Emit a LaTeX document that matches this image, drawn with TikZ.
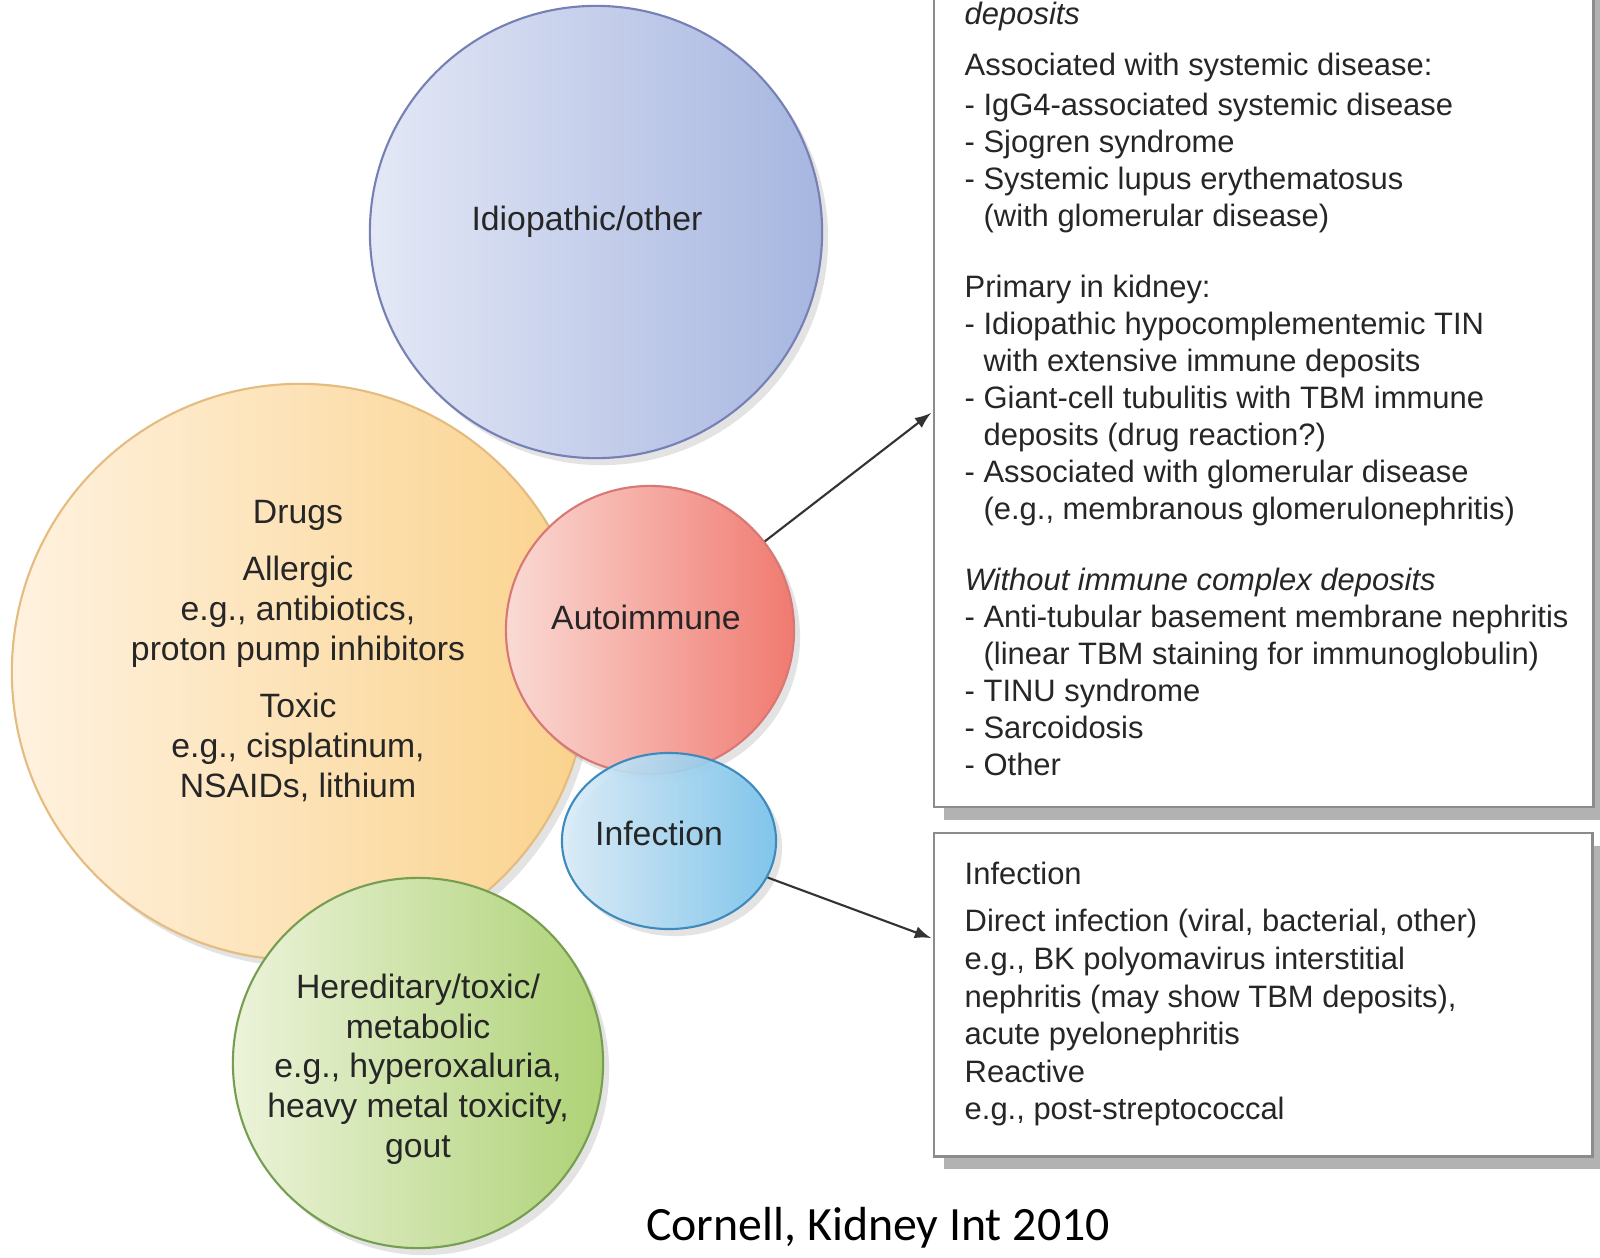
\documentclass[tikz,border=0pt]{standalone}
\usepackage{fontspec}
\setmainfont{Liberation Sans}
\newfontfamily\capfont{Carlito}
\usetikzlibrary{shapes.geometric,shadows}

\definecolor{idioL}{RGB}{228,232,246}
\definecolor{idioR}{RGB}{166,182,224}
\definecolor{idioD}{RGB}{118,128,180}
\definecolor{drugL}{RGB}{255,242,224}
\definecolor{drugR}{RGB}{250,210,140}
\definecolor{drugD}{RGB}{228,188,128}
\definecolor{autoL}{RGB}{250,218,212}
\definecolor{autoR}{RGB}{240,122,112}
\definecolor{autoD}{RGB}{216,120,118}
\definecolor{infL}{RGB}{218,236,248}
\definecolor{infR}{RGB}{118,194,236}
\definecolor{infD}{RGB}{62,138,188}
\definecolor{herL}{RGB}{236,243,218}
\definecolor{herR}{RGB}{174,210,118}
\definecolor{herD}{RGB}{118,158,80}

\tikzset{
  bubble/.style={circle, draw, inner sep=0pt, line width=0.6pt,
    drop shadow={opacity=0.22, shadow xshift=0.06cm, shadow yshift=-0.07cm}},
  bubbletext/.style={align=center, inner sep=0pt, text=black!85,
    font=\fontsize{9.6}{11.4}\selectfont},
  infobox/.style={draw=black!45, fill=white, line width=0.7pt, inner sep=0pt,
    drop shadow={opacity=1, fill=black!30, shadow xshift=0.1cm, shadow yshift=-0.13cm}},
  boxtext/.style={align=left, inner sep=0pt, anchor=north west, text=black!85,
    font=\fontsize{8.8}{10.52}\selectfont},
}

\begin{document}
\begin{tikzpicture}[x=0.01cm, y=-0.01cm]
	\clip (0,0) rectangle (1600,1257);
	\fill[white] (0,0) rectangle (1600,1257);
	% circles
	\node[bubble, draw=idioD, left color=idioL, right color=idioR, minimum size=4.52cm] (idio) at (596,232) {};
	\node[bubble, draw=drugD, left color=drugL, right color=drugR, minimum size=5.76cm] (drugs) at (300,672) {};
	\node[bubble, draw=herD, left color=herL, right color=herR, minimum size=3.70cm] (hered) at (418,1063) {};
	\node[bubble, draw=autoD, left color=autoL, right color=autoR, minimum size=2.88cm] (auto) at (650,630) {};
	\node[bubble, ellipse, draw=infD, left color=infL, right color=infR, fill opacity=0.9, minimum width=2.14cm, minimum height=1.76cm] (infect) at (669,841) {};
	% circle labels
	\node[bubbletext] (idiotext) at (587,222) {Idiopathic/other};
	\node[bubbletext] (drugstext) at (298,651) {Drugs\\[0.17cm] Allergic\\ e.g., antibiotics,\\ proton pump inhibitors\\[0.17cm] Toxic\\ e.g., cisplatinum,\\ NSAIDs, lithium};
	\node[bubbletext] (autotext) at (646,617) {Autoimmune};
	\node[bubbletext] (infecttext) at (659,833) {Infection};
	\node[bubbletext, font=\fontsize{9.6}{11.3}\selectfont] (heredtext) at (418,1069) {Hereditary/toxic/\\ metabolic\\ e.g., hyperoxaluria,\\ heavy metal toxicity,\\ gout};
	% boxes
	\node[infobox, anchor=south west, minimum width=6.59cm, minimum height=8.5cm] (autobox) at (933,808) {};
	\node[infobox, anchor=north west, minimum width=6.58cm, minimum height=3.23cm] (infbox) at (933,832) {};
	\node[boxtext] (autolist) at (964,1) {\textit{deposits}\\[0.14cm]
		Associated with systemic disease:\\[0.03cm]
		- IgG4-associated systemic disease\\
		- Sjogren syndrome\\
		- Systemic lupus erythematosus\\
		\hphantom{- }(with glomerular disease)\\[0.34cm]
		Primary in kidney:\\
		- Idiopathic hypocomplementemic TIN\\
		\hphantom{- }with extensive immune deposits\\
		- Giant-cell tubulitis with TBM immune\\
		\hphantom{- }deposits (drug reaction?)\\
		- Associated with glomerular disease\\
		\hphantom{- }(e.g., membranous glomerulonephritis)\\[0.34cm]
		\textit{Without immune complex deposits}\\
		- Anti-tubular basement membrane nephritis\\
		\hphantom{- }(linear TBM staining for immunoglobulin)\\
		- TINU syndrome\\
		- Sarcoidosis\\
		- Other};
	\node[boxtext, font=\fontsize{8.8}{10.7}\selectfont] (inflist) at (964,861) {Infection\\[0.10cm]
		Direct infection (viral, bacterial, other)\\
		e.g., BK polyomavirus interstitial\\
		nephritis (may show TBM deposits),\\
		acute pyelonephritis\\
		Reactive\\
		e.g., post-streptococcal};
	% arrows
	\coordinate (autotip) at (931,413);
	\coordinate (inftip) at (931,938);
	\draw[-latex, line width=0.6pt, black!80] (auto) -- (autotip);
	\draw[-latex, line width=0.6pt, black!80] (infect) -- (inftip);
	% source
	\node[font=\capfont\fontsize{13.6}{16}\selectfont] (cite) at (878,1228) {Cornell, Kidney Int 2010};
\end{tikzpicture}
\end{document}
